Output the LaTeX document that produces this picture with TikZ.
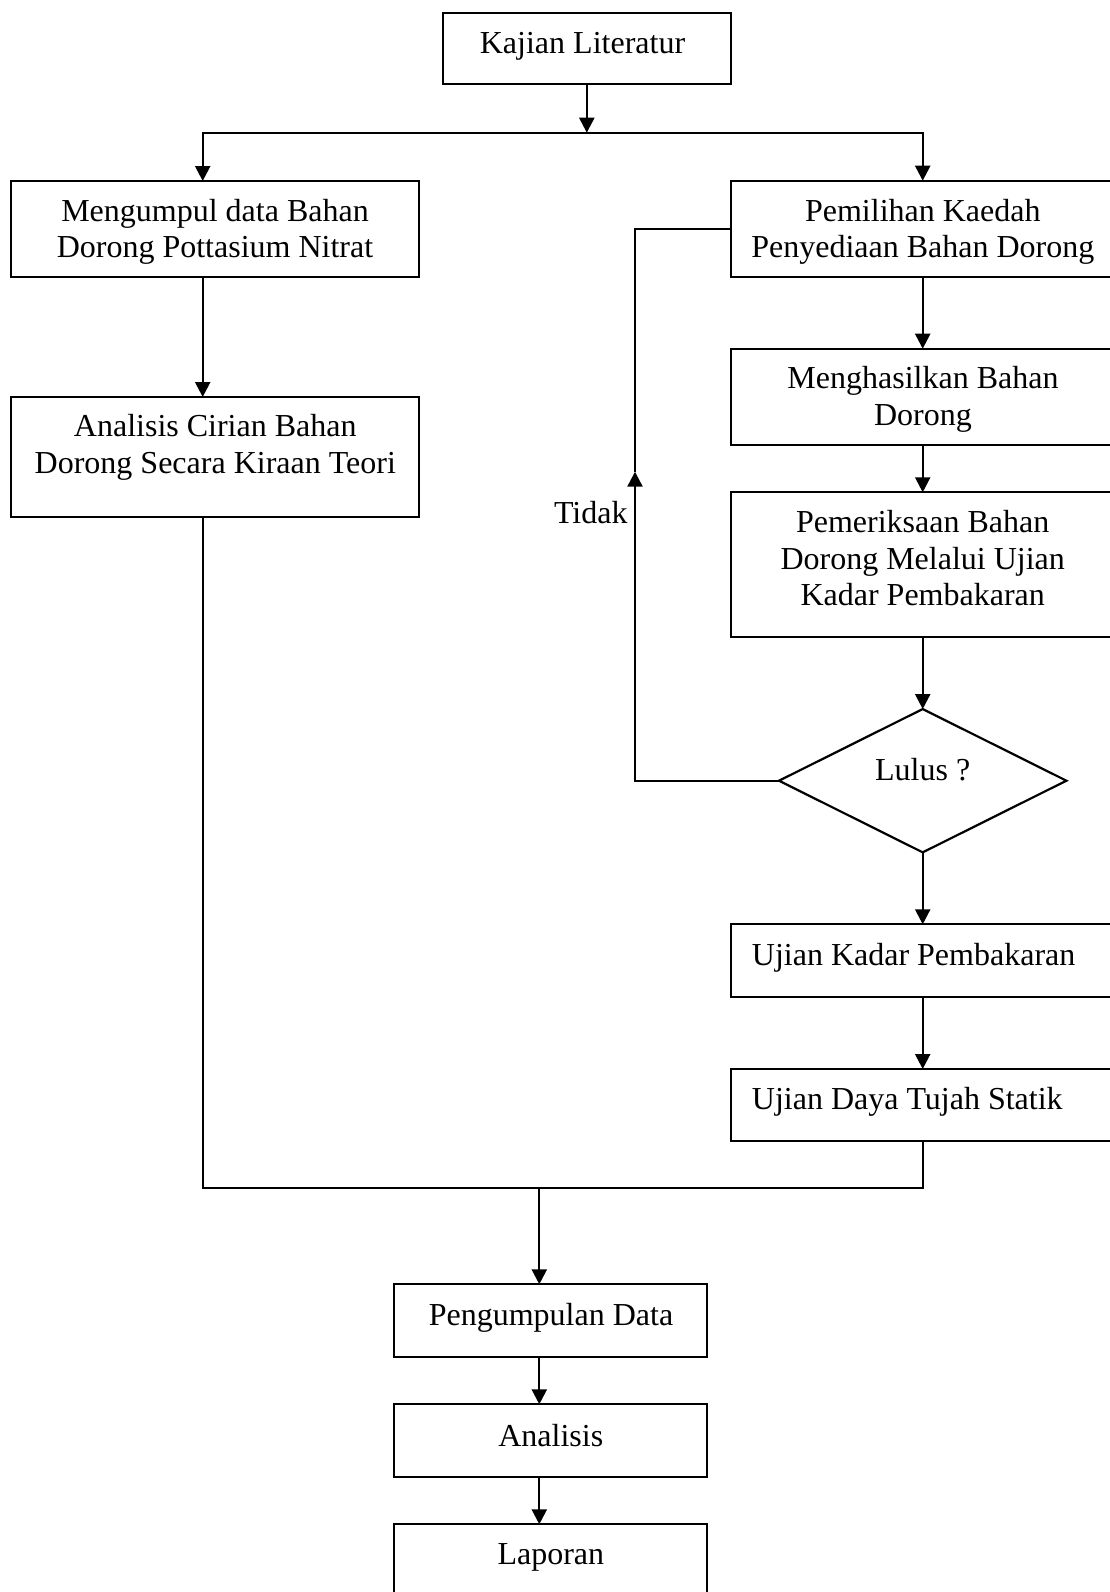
\documentclass[tikz,border=0pt]{standalone}
\usepackage{fontspec}
\setmainfont{Liberation Serif}
\usetikzlibrary{arrows.meta,shapes.geometric}
\newcommand\mlines[1]{{\renewcommand\arraystretch{1}\setlength\tabcolsep{0pt}\begin{tabular}[t]{c}#1\end{tabular}}}
\begin{document}
\begin{tikzpicture}[x=1pt,y=-1pt,
  box/.style={draw,line width=2.3pt,inner sep=0pt,outer sep=0pt,rectangle},
  dia/.style={draw,line width=2.2pt,inner sep=0pt,outer sep=0pt,diamond},
  txt/.style={inner sep=0pt,font=\fontsize{32}{36.7}\selectfont,anchor=base},
  txtl/.style={txt,anchor=base west},
  arr/.style={-{Triangle[length=15pt,width=15pt]},line width=2.3pt},
  lin/.style={line width=2.3pt}]
\useasboundingbox (0,0) rectangle (1110,1592);
\clip (0,0) rectangle (1110,1592);
\fill[white] (0,0) rectangle (1110,1592);

% boxes
\node[box,minimum width=288.3pt,minimum height=71.6pt] (kaj) at (586.8,48.5) {};
\node[box,minimum width=408.3pt,minimum height=95.7pt] (m1) at (214.85,228.85) {};
\node[box,minimum width=408.3pt,minimum height=119.7pt] (m2) at (214.85,456.85) {};
\node[box,minimum width=384pt,minimum height=96pt] (r1) at (922.7,228.7) {};
\node[box,minimum width=384pt,minimum height=96.3pt] (r2) at (922.7,396.85) {};
\node[box,minimum width=384pt,minimum height=144.4pt] (r3) at (922.7,564.5) {};
\node[dia,minimum width=287.4pt,minimum height=143.3pt] (lulus) at (922.7,780.7) {};
\node[box,minimum width=384pt,minimum height=72.4pt] (r4) at (922.7,960.5) {};
\node[box,minimum width=384pt,minimum height=71.7pt] (r5) at (922.7,1104.85) {};
\node[box,minimum width=313pt,minimum height=72.4pt] (p1) at (550.8,1320.5) {};
\node[box,minimum width=313pt,minimum height=72.4pt] (p2) at (550.8,1440.5) {};
\node[box,minimum width=313pt,minimum height=72.4pt] (p3) at (550.8,1560.5) {};

% texts
\node[txt] (tkaj) at (582.5,53.3) {Kajian Literatur};
\node[txt] (tm1) at (215,221) {\mlines{Mengumpul data Bahan\\Dorong Pottasium Nitrat}};
\node[txt] (tm2) at (215.3,436.7) {\mlines{Analisis Cirian Bahan\\Dorong Secara Kiraan Teori}};
\node[txt] (tr1) at (922.8,221) {\mlines{Pemilihan Kaedah\\Penyediaan Bahan Dorong}};
\node[txt] (tr2) at (923,388.7) {\mlines{Menghasilkan Bahan\\Dorong}};
\node[txt] (tr3) at (922.7,532.3) {\mlines{Pemeriksaan Bahan\\Dorong Melalui Ujian\\Kadar Pembakaran}};
\node[txt] (tlulus) at (922.7,780) {Lulus ?};
\node[txtl] (tr4) at (751.7,965) {Ujian Kadar Pembakaran};
\node[txtl] (tr5) at (751.7,1109.3) {Ujian Daya Tujah Statik};
\node[txt] (tp1) at (551,1325.7) {Pengumpulan Data};
\node[txt] (tp2) at (550.8,1446) {Analisis};
\node[txt] (tp3) at (550.8,1564) {Laporan};
\node[txt] (ttidak) at (590.8,523.3) {Tidak};

% connectors
\coordinate (split) at (586.8,132.7);
\coordinate (lx) at (202.7,132.7);
\coordinate (fbx) at (635,471.7);
\coordinate (mrg) at (539.3,1188.3);
\draw[arr] (kaj.south) -- (split);
\draw[arr] (split) -| (lx |- m1.north);
\draw[arr] (split) -| (r1.north);
\draw[arr] (lx |- m1.south) -- (lx |- m2.north);
\draw[arr] (r1.south) -- (r2.north);
\draw[arr] (r2.south) -- (r3.north);
\draw[arr] (r3.south) -- (lulus.north);
\draw[arr] (lulus.south) -- (r4.north);
\draw[arr] (r4.south) -- (r5.north);
\draw[arr] (lulus.west) -| (fbx);
\draw[lin] (fbx) |- (r1.west);
\draw[lin] (lx |- m2.south) |- (mrg) -| (r5.south);
\draw[arr] (mrg) -- (mrg |- p1.north);
\draw[arr] (p1.south -| mrg) -- (p2.north -| mrg);
\draw[arr] (p2.south -| mrg) -- (p3.north -| mrg);
\end{tikzpicture}
\end{document}
